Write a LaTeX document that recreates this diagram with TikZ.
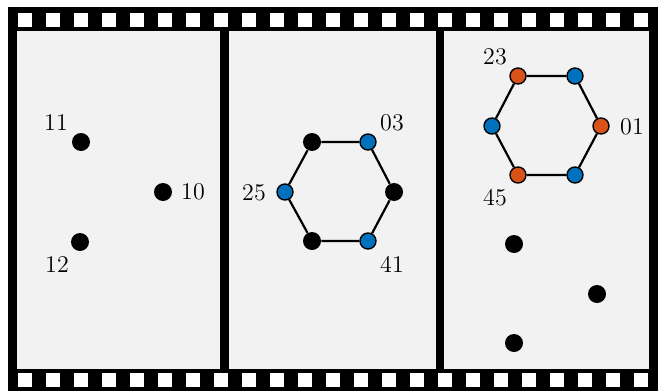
\documentclass[tikz,border=0pt]{standalone}
\definecolor{mblue}{RGB}{0,114,189}
\definecolor{morange}{RGB}{217,83,25}
\definecolor{framegray}{RGB}{242,242,242}
\tikzset{
  kdot/.style={circle, fill=black, inner sep=0pt, minimum size=9pt},
  bdot/.style={circle, draw=black, fill=mblue, line width=0.7pt, inner sep=0pt, minimum size=8pt},
  odot/.style={circle, draw=black, fill=morange, line width=0.7pt, inner sep=0pt, minimum size=8pt},
  lab/.style={font=\large, inner sep=0pt},
  ring/.style={line width=1.1pt}
}
\begin{document}
\begin{tikzpicture}[x=0.5pt, y=-0.5pt]
  \useasboundingbox (0,0) rectangle (658,391);
  % film strip
  \fill[black] (8,7) rectangle (658,391);
  \fill[framegray] (17,31) rectangle (220,369);
  \fill[framegray] (229,31) rectangle (436,369);
  \fill[framegray] (444,31) rectangle (649,369);
  \foreach \i in {0,...,22} {
    \fill[white] (18+28*\i,13) rectangle ++(14,14);
    \fill[white] (18+28*\i,373) rectangle ++(14,14);
  }
  % frame 1
  \node[kdot] (a11) at (81,142) {};
  \node[kdot] (a10) at (163,192) {};
  \node[kdot] (a12) at (80,242) {};
  \node[lab] (t11) at (56,123) {11};
  \node[lab] (t10) at (193,192) {10};
  \node[lab] (t12) at (57,265) {12};
  % frame 2
  \node[kdot] (b1) at (394,192) {};
  \node[bdot] (b2) at (368,142) {};
  \node[kdot] (b3) at (312,142) {};
  \node[bdot] (b4) at (285,192) {};
  \node[kdot] (b5) at (312,241) {};
  \node[bdot] (b6) at (368,241) {};
  \draw[ring] (b1) -- (b2) -- (b3) -- (b4) -- (b5) -- (b6) -- (b1);
  \node[lab] (t03) at (392,123) {03};
  \node[lab] (t25) at (254,193) {25};
  \node[lab] (t41) at (392,264) {41};
  % frame 3
  \node[odot] (c1) at (601,126) {};
  \node[bdot] (c2) at (575,76) {};
  \node[odot] (c3) at (518,76) {};
  \node[bdot] (c4) at (492,126) {};
  \node[odot] (c5) at (518,175) {};
  \node[bdot] (c6) at (575,175) {};
  \draw[ring] (c1) -- (c2) -- (c3) -- (c4) -- (c5) -- (c6) -- (c1);
  \node[lab] (t23) at (495,57) {23};
  \node[lab] (t01) at (632,127) {01};
  \node[lab] (t45) at (495,198) {45};
  \node[kdot] (c7) at (514,244) {};
  \node[kdot] (c8) at (597,294) {};
  \node[kdot] (c9) at (514,343) {};
\end{tikzpicture}
\end{document}
